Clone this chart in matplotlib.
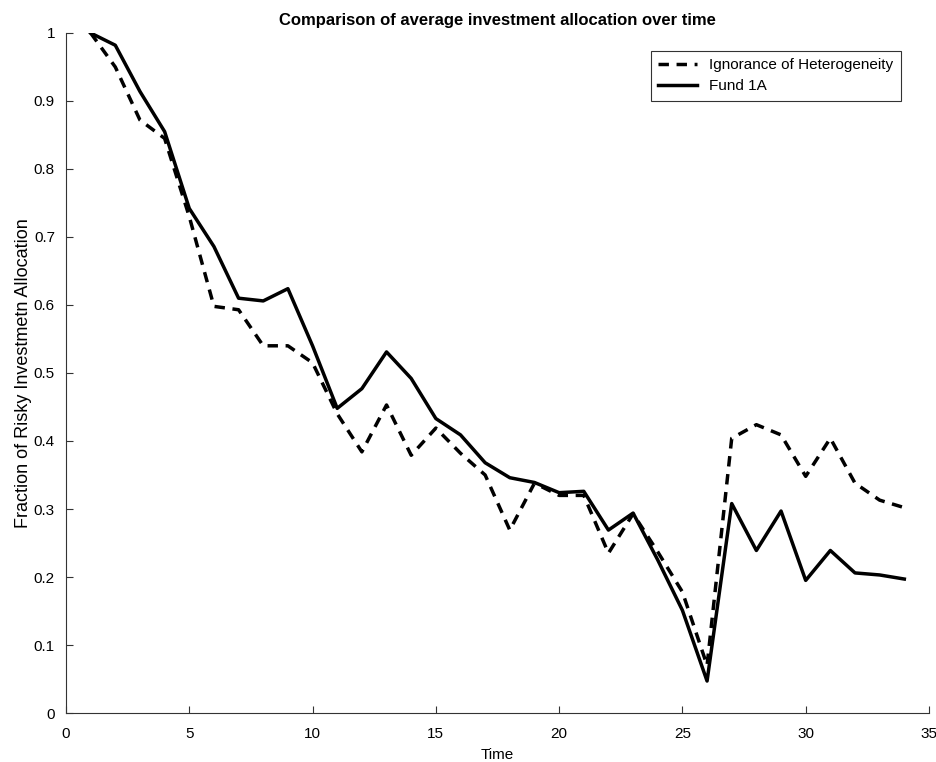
import numpy as np
import matplotlib
matplotlib.use("Agg")
import matplotlib.pyplot as plt

plt.rcParams['font.family'] = ['Liberation Sans', 'DejaVu Sans']

time = np.arange(1, 35)

ignorance = [1.0, 0.95, 0.872, 0.845, 0.73, 0.598, 0.593, 0.54, 0.54, 0.515,
             0.44, 0.384, 0.453, 0.379, 0.419, 0.382, 0.35, 0.269, 0.338, 0.32,
             0.32, 0.235, 0.293, 0.237, 0.178, 0.07, 0.404, 0.424, 0.409, 0.348,
             0.404, 0.338, 0.313, 0.302]

fund_1a = [1.0, 0.982, 0.914, 0.855, 0.742, 0.686, 0.61, 0.606, 0.624, 0.54,
           0.448, 0.477, 0.531, 0.492, 0.433, 0.409, 0.368, 0.346, 0.339, 0.324,
           0.326, 0.269, 0.294, 0.225, 0.151, 0.047, 0.308, 0.239, 0.297, 0.195,
           0.239, 0.206, 0.203, 0.197]

fig = plt.figure(figsize=(9.36, 7.62), dpi=100)
ax = fig.add_axes([0.0705, 0.0643, 0.922, 0.8924])

ax.plot(time, ignorance, color='black', lw=2.5, linestyle=(0, (3, 2.2)),
        label='Ignorance of Heterogeneity')
ax.plot(time, fund_1a, color='black', lw=2.5, label='Fund 1A')

ax.set_xlim(0, 35)
ax.set_ylim(0, 1)
ax.set_xticks(np.arange(0, 36, 5))
ax.set_yticks(np.arange(0, 1.01, 0.1))
ax.set_yticklabels(['0', '0.1', '0.2', '0.3', '0.4', '0.5', '0.6', '0.7', '0.8', '0.9', '1'])
ax.tick_params(direction='in', length=5, labelsize=11, color='#333333')
ax.tick_params(axis='x', pad=10)
ax.tick_params(axis='y', pad=8)
ax.spines['top'].set_visible(False)
ax.spines['right'].set_visible(False)
for s in ['left', 'bottom']:
    ax.spines[s].set_color('#333333')

ax.set_title('Comparison of average investment allocation over time',
             fontsize=12, fontweight='bold', pad=6)
ax.set_xlabel('Time', fontsize=11, labelpad=5)
ax.set_ylabel('Fraction of Risky Investmetn Allocation', fontsize=13, labelpad=1)

leg = ax.legend(loc='upper right', bbox_to_anchor=(0.976, 0.985), fontsize=11,
                fancybox=False, edgecolor='black', handlelength=2.5,
                borderpad=0.5, labelspacing=0.45)
leg.get_frame().set_linewidth(0.8)

fig.savefig('out.png', dpi=100)
